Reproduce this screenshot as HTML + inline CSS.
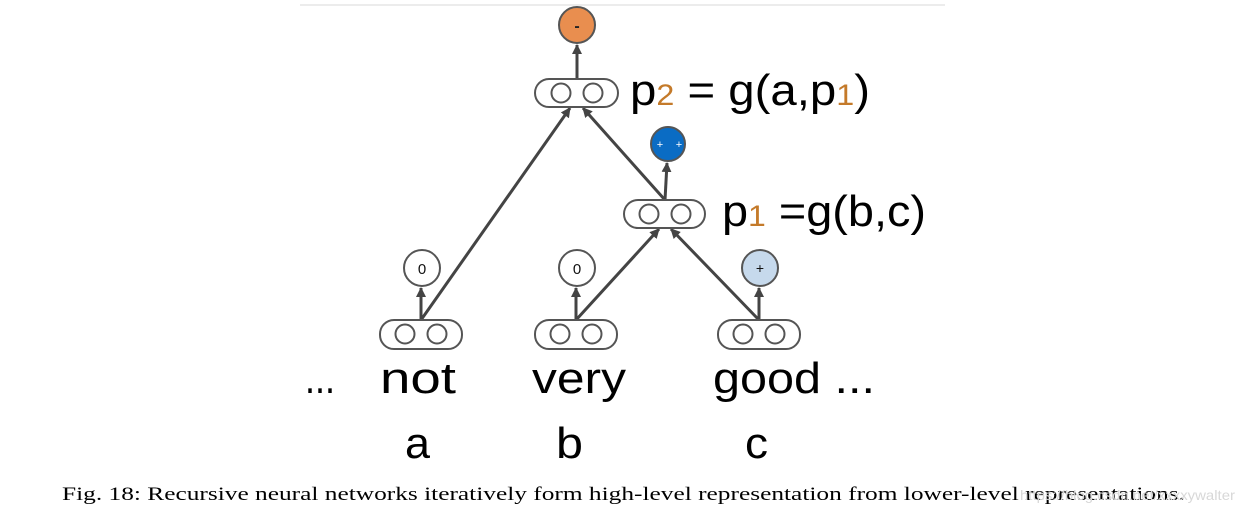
<!DOCTYPE html>
<html><head><style>
html,body{margin:0;padding:0;background:#fff;}
svg{display:block;}
</style></head><body>
<svg width="1244" height="518" viewBox="0 0 1244 518" xmlns="http://www.w3.org/2000/svg">
<defs>
<marker id="ah" markerWidth="10" markerHeight="10" refX="9" refY="5" orient="auto" markerUnits="userSpaceOnUse" viewBox="0 0 10 10">
<path d="M0,0 L10,5 L0,10 Z" fill="#444"/>
</marker>
</defs>
<line x1="300" y1="5" x2="945" y2="5" stroke="#e6e6e6" stroke-width="1.5"/>
<g stroke="#444" stroke-width="3" fill="none">
<line x1="577" y1="78" x2="577" y2="45" marker-end="url(#ah)" />
<line x1="665" y1="200" x2="667" y2="163" marker-end="url(#ah)" />
<line x1="421" y1="320" x2="570" y2="108" marker-end="url(#ah)" />
<line x1="665" y1="200" x2="583" y2="108" marker-end="url(#ah)" />
<line x1="576" y1="320" x2="659" y2="229" marker-end="url(#ah)" />
<line x1="759" y1="320" x2="671" y2="229" marker-end="url(#ah)" />
<line x1="421" y1="320" x2="421" y2="288" marker-end="url(#ah)" />
<line x1="576" y1="320" x2="576" y2="288" marker-end="url(#ah)" />
<line x1="759" y1="320" x2="759" y2="288" marker-end="url(#ah)" />
</g>
<g stroke="#555" stroke-width="2">
<circle cx="577" cy="25" r="18" fill="#e98e4f"/>
<circle cx="668" cy="144" r="17" fill="#0a6cc4"/>
<circle cx="422" cy="268" r="18" fill="#fff"/>
<circle cx="577" cy="268" r="18" fill="#fff"/>
<circle cx="760" cy="268" r="18" fill="#c6d9ec"/>
</g>
<g stroke="#555" stroke-width="2" fill="#fff">
<rect x="535" y="79" width="83" height="28" rx="14"/>
<circle cx="561" cy="93" r="9.5"/><circle cx="593" cy="93" r="9.5"/>
<rect x="624" y="200" width="81" height="28" rx="14"/>
<circle cx="649" cy="214" r="9.5"/><circle cx="681" cy="214" r="9.5"/>
<rect x="380" y="320" width="82" height="29" rx="14"/>
<circle cx="405" cy="334" r="9.5"/><circle cx="437" cy="334" r="9.5"/>
<rect x="535" y="320" width="82" height="29" rx="14"/>
<circle cx="560" cy="334" r="9.5"/><circle cx="592" cy="334" r="9.5"/>
<rect x="718" y="320" width="82" height="29" rx="14"/>
<circle cx="743" cy="334" r="9.5"/><circle cx="775" cy="334" r="9.5"/>
</g>
<g font-family="Liberation Sans, sans-serif" text-anchor="middle">
<text x="577" y="31" font-size="16" font-weight="bold" fill="#222">-</text>
<text x="660" y="148" font-size="11" fill="#fff">+</text>
<text x="679" y="148" font-size="11" fill="#fff">+</text>
<text x="422" y="274" font-size="15" fill="#111">0</text>
<text x="577" y="274" font-size="15" fill="#111">0</text>
<text x="760" y="273" font-size="14" fill="#111">+</text>
</g>
<g font-family="Liberation Sans, sans-serif" fill="#000">
<text x="630" y="105" font-size="44" textLength="240" lengthAdjust="spacingAndGlyphs">p<tspan font-size="30" dy="0" fill="#c47a2a">2</tspan> = g(a,p<tspan font-size="30" fill="#c47a2a">1</tspan>)</text>
<text x="722" y="226" font-size="44" textLength="204" lengthAdjust="spacingAndGlyphs">p<tspan font-size="30" fill="#c47a2a">1</tspan> =g(b,c)</text>
<text x="305" y="393" font-size="44" textLength="30" lengthAdjust="spacingAndGlyphs">...</text>
<text x="380" y="393" font-size="44" textLength="76" lengthAdjust="spacingAndGlyphs">not</text>
<text x="532" y="393" font-size="44" textLength="94" lengthAdjust="spacingAndGlyphs">very</text>
<text x="713" y="393" font-size="44" textLength="162" lengthAdjust="spacingAndGlyphs">good ...</text>
<text x="405" y="458" font-size="44" textLength="25" lengthAdjust="spacingAndGlyphs">a</text>
<text x="556" y="458" font-size="44" textLength="27" lengthAdjust="spacingAndGlyphs">b</text>
<text x="745" y="458" font-size="44" textLength="23" lengthAdjust="spacingAndGlyphs">c</text>
</g>
<text x="62" y="500" font-family="Liberation Serif, serif" font-size="19" fill="#000" textLength="1123" lengthAdjust="spacingAndGlyphs">Fig. 18: Recursive neural networks iteratively form high-level representation from lower-level representations.</text>
<text x="1020" y="500" font-family="Liberation Sans, sans-serif" font-size="14" fill="#d8d8d8" textLength="215" lengthAdjust="spacingAndGlyphs">https://blog.csdn.net/xxxxywalter</text>
</svg>
</body></html>
